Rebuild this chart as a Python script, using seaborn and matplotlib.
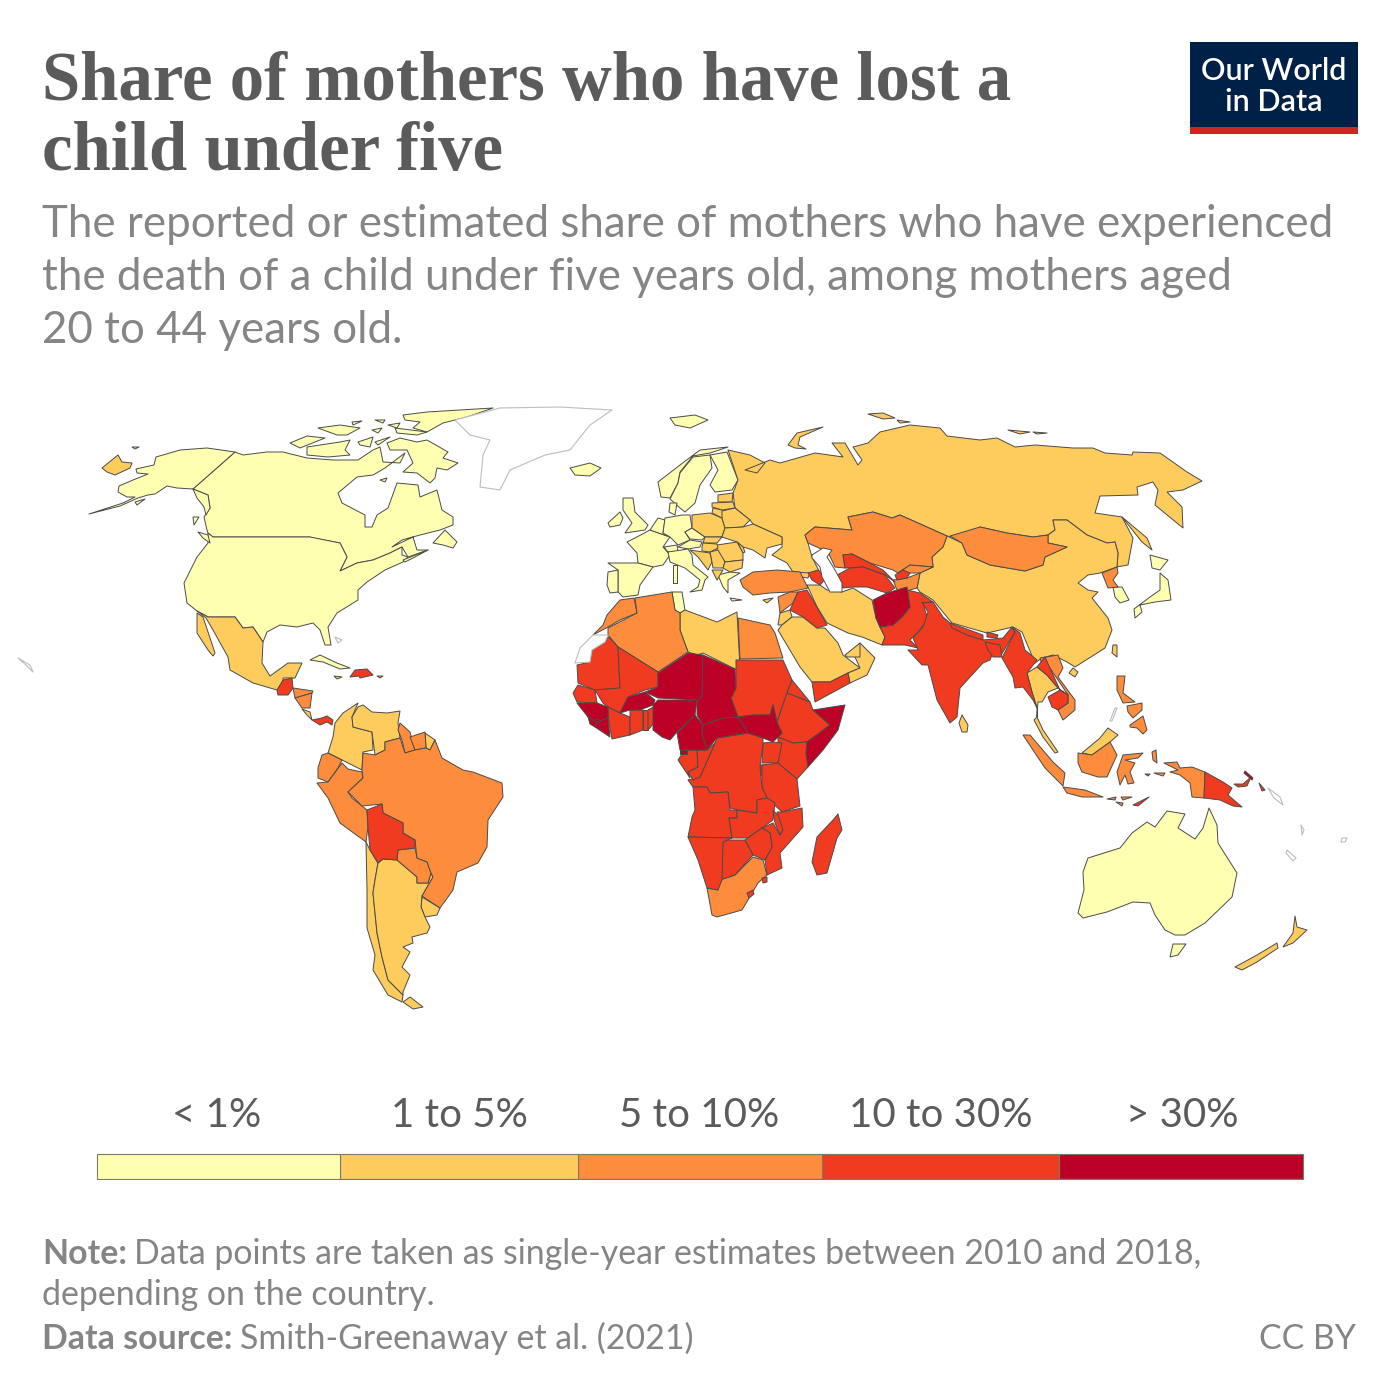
#!/usr/bin/env python3
# -*- coding: utf-8 -*-
"""
Share of mothers who have lost a child under five - world map
Outlines are traced by hand, in map units read off the source picture.
"""

import pandas as pd
import matplotlib.pyplot as plt
from matplotlib.patches import Rectangle
import seaborn as sns

# ------------------------
# LEGEND DATA
# ------------------------
bin_labels = ["< 1%", "1 to 5%", "5 to 10%", "10 to 30%", "> 30%"]
bin_edges = [0, 243, 482, 726, 964, 1208]
bin_colors = ["#ffffb2", "#fecc5c", "#fd8d3c", "#f03b20", "#bd0026"]

# ------------------------
# OUTLINES: < 1%
# ------------------------
canada = [(235,452),(243,455),(267,452),(283,452),(307,458),(333,460),(358,460),(373,450),(380,447),(383,462),(400,463),(405,453),(385,468),(373,475),(357,477),(338,493),(342,503),(365,515),(365,527),(372,527),(377,515),(388,508),(397,483),(418,485),(420,497),(437,490),(442,510),(453,517),(453,525),(440,530),(420,535),(402,540),(392,547),(413,537),(417,550),(428,550),(408,557),(402,547),(390,553),(373,560),(357,563),(340,571),(347,557),(340,543),(313,538),(310,537),(213,537),(208,533),(207,530),(204,517),(210,508),(208,495),(193,489)]
alaska = [(235,452),(207,448),(180,450),(156,457),(154,465),(136,469),(137,473),(148,474),(133,480),(119,486),(118,492),(127,497),(135,497),(123,503),(89,514),(120,506),(138,498),(148,495),(155,494),(167,486),(177,488),(193,489),(208,495),(210,508),(206,515),(204,507),(197,498),(193,489)]
usa = [(213,537),(310,537),(340,543),(347,557),(340,571),(357,563),(373,560),(390,553),(402,547),(402,555),(408,557),(403,562),(385,570),(367,582),(358,590),(358,600),(337,613),(328,627),(331,645),(325,645),(320,630),(313,623),(297,627),(280,625),(267,632),(263,642),(253,627),(243,628),(235,617),(208,617),(197,611),(187,603),(184,583),(197,557),(208,543),(208,533)]
baffin = [(387,443),(400,438),(417,442),(427,440),(448,452),(443,458),(458,463),(447,470),(437,468),(435,478),(430,483),(417,473),(403,472),(413,463),(407,450),(390,450)]
victoria_isl = [(307,447),(340,442),(350,440),(345,450),(350,455),(328,457),(307,455)]
banks_isl = [(290,443),(307,436),(325,438),(300,448)]
ellesmere = [(403,415),(427,412),(493,408),(467,417),(443,423),(427,432),(413,428),(420,422),(405,420)]
devon_isl = [(395,428),(427,432),(417,435),(397,433)]
melville_isl = [(318,428),(340,425),(360,428),(347,435),(337,435)]
somerset_isl = [(358,442),(373,437),(370,447),(360,445)]
prince_isl = [(375,442),(390,437),(378,445)]
arctic_a = [(375,420),(385,420),(383,423)]
arctic_b = [(372,430),(382,428),(378,433)]
arctic_c = [(388,425),(400,423),(397,428)]
arctic_d = [(352,422),(362,421),(353,425)]
hudson_isl = [(380,480),(387,478),(385,482)]
newfoundland = [(445,530),(457,542),(453,548),(443,545),(433,543)]
nova_scotia = [(403,560),(428,550),(413,558),(405,562)]
vancouver_isl = [(198,532),(208,535),(210,543),(203,538)]
haida_gwaii = [(193,517),(199,517),(194,525)]
kodiak = [(135,502),(145,499),(137,505)]
st_lawrence = [(132,447),(139,447),(135,449)]
cuba = [(310,660),(320,655),(337,663),(350,668),(340,669),(323,662)]
iceland = [(570,468),(590,463),(601,468),(590,476),(575,475)]
svalbard = [(670,418),(695,415),(708,420),(690,428),(675,425)]
norway = [(658,482),(680,465),(700,450),(728,447),(710,453),(693,456),(680,472),(678,483),(670,498),(661,497)]
sweden = [(680,473),(693,457),(710,455),(712,468),(700,485),(695,503),(685,512),(680,508),(670,499),(678,483)]
finland = [(710,455),(727,452),(738,480),(732,490),(715,492),(710,485),(718,470)]
denmark = [(670,503),(677,503),(675,515),(669,512)]
uk = [(623,498),(633,498),(635,512),(648,525),(645,530),(625,533),(632,523),(623,510)]
ireland = [(608,523),(620,512),(623,518),(620,525),(610,527)]
france = [(627,542),(635,538),(650,530),(670,537),(663,547),(670,555),(663,565),(653,567),(638,563),(637,553)]
benelux = [(650,530),(658,518),(665,520),(663,533),(670,537)]
germany = [(665,518),(682,515),(690,515),(692,528),(685,532),(690,540),(678,545),(670,537),(663,533)]
switzerland = [(664,547),(677,545),(678,552),(668,552)]
austria = [(678,547),(690,540),(702,542),(700,547),(688,549)]
czechia = [(685,532),(692,528),(705,537),(702,540),(690,539)]
italy = [(668,552),(688,549),(692,555),(693,565),(708,577),(705,580),(702,590),(690,592),(698,587),(700,580),(685,568),(670,562)]
sardinia = [(673,565),(677,565),(677,583),(673,583)]
spain = [(608,563),(638,563),(653,567),(640,585),(638,595),(623,597),(618,592),(618,570)]
portugal = [(608,572),(618,570),(618,592),(610,593),(607,585)]
greece = [(718,575),(730,572),(740,573),(728,580),(728,593),(723,587)]
tunisia = [(672,592),(682,592),(685,610),(680,613),(675,610)]
south_korea = [(1113,587),(1122,587),(1129,600),(1120,603),(1115,597)]
hokkaido = [(1150,555),(1168,560),(1160,570),(1152,568)]
honshu = [(1160,573),(1168,580),(1171,600),(1155,602),(1140,605),(1142,612),(1135,618),(1134,609),(1150,597),(1160,590)]
australia = [(1167,811),(1185,814),(1178,828),(1195,839),(1203,828),(1209,808),(1217,825),(1218,843),(1237,873),(1232,897),(1205,923),(1185,935),(1175,935),(1165,930),(1155,915),(1150,903),(1133,902),(1107,912),(1083,918),(1078,913),(1084,890),(1083,872),(1088,858),(1120,848),(1132,833),(1147,822),(1155,827)]
tasmania = [(1173,944),(1186,944),(1178,955),(1170,957)]

# ------------------------
# OUTLINES: 1 to 5%
# ------------------------
russia = [(728,450),(750,455),(765,463),(757,473),(745,470),(770,460),(780,463),(815,453),(843,457),(832,443),(845,443),(858,465),(862,460),(853,447),(868,443),(880,432),(910,425),(940,428),(947,436),(980,440),(997,438),(1015,447),(1035,445),(1073,448),(1093,448),(1105,453),(1132,455),(1133,452),(1160,453),(1187,472),(1202,481),(1183,490),(1167,492),(1182,507),(1183,528),(1155,505),(1158,490),(1153,482),(1137,487),(1138,495),(1100,496),(1095,513),(1122,517),(1133,538),(1128,565),(1117,567),(1118,553),(1115,542),(1107,543),(1087,535),(1067,520),(1053,520),(1055,530),(1048,535),(1033,537),(1007,533),(980,527),(978,535),(950,537),(947,536),(900,515),(892,518),(873,512),(848,517),(852,530),(815,527),(805,535),(808,543),(812,557),(822,577),(810,575),(793,572),(787,563),(772,555),(782,547),(782,537),(753,524),(750,520),(735,508),(733,493),(738,480)]
chukotka = [(102,468),(118,455),(122,462),(132,463),(130,468),(115,475),(107,472)]
novaya_zemlya = [(788,445),(797,433),(823,427),(800,437),(798,445),(806,449),(795,448)]
severnaya_a = [(868,414),(883,413),(895,418),(883,419)]
severnaya_b = [(897,420),(910,422),(900,423)]
new_siberian_a = [(1008,430),(1030,432),(1020,434)]
new_siberian_b = [(1033,432),(1047,433),(1037,434)]
sakhalin = [(1122,517),(1147,538),(1152,550),(1142,542)]
mexico = [(197,611),(208,617),(235,617),(243,628),(253,627),(263,642),(262,663),(270,676),(288,663),(302,663),(295,678),(283,678),(283,687),(277,690),(253,683),(230,670),(228,657),(213,630),(206,618)]
baja = [(197,613),(197,633),(208,650),(213,656),(215,653),(203,617)]
jamaica = [(334,676),(342,677),(337,679)]
puerto_rico = [(377,676),(383,676),(380,678)]
costa_rica = [(302,709),(310,712),(312,720),(307,715)]
colombia = [(335,723),(343,713),(358,703),(352,717),(353,727),(372,732),(373,750),(363,752),(362,770),(342,760),(328,753),(333,737)]
venezuela = [(358,707),(363,705),(372,712),(387,713),(400,711),(398,723),(400,738),(385,742),(385,750),(375,755),(372,732),(353,727),(352,717)]
french_guiana = [(425,733),(435,740),(430,750),(426,748)]
uruguay = [(422,897),(440,908),(437,915),(425,917),(421,907)]
chile = [(366,842),(370,850),(378,863),(375,880),(373,893),(377,933),(382,957),(388,980),(403,995),(402,1002),(388,995),(373,970),(375,955),(367,928),(367,890)]
fuego = [(403,1002),(410,997),(423,1007),(413,1009)]
argentina = [(378,863),(383,859),(397,860),(417,877),(417,883),(428,883),(431,873),(433,877),(422,896),(421,907),(425,917),(430,927),(427,933),(412,937),(413,943),(403,947),(410,952),(402,967),(410,975),(403,992),(403,995),(388,980),(382,957),(377,933),(373,893),(375,880)]
poland = [(692,515),(710,513),(722,518),(725,528),(722,537),(705,537),(692,528)]
estonia = [(718,495),(733,493),(732,502),(718,502)]
latvia = [(712,503),(733,502),(735,508),(722,510),(712,507)]
lithuania = [(713,508),(722,510),(727,517),(722,518),(712,513)]
belarus = [(722,511),(735,508),(750,520),(743,527),(725,528),(722,518)]
ukraine = [(725,528),(743,527),(753,524),(782,537),(782,544),(767,548),(765,558),(753,550),(743,547),(737,542),(722,537)]
moldova = [(737,542),(743,547),(745,552),(743,553)]
romania = [(717,545),(737,542),(743,553),(743,560),(725,562),(717,552)]
slovakia = [(705,537),(722,537),(717,543),(703,543)]
hungary = [(702,547),(703,543),(717,544),(718,548),(710,552),(702,551)]
croatia = [(690,550),(703,552),(710,553),(712,562),(708,570),(698,557)]
serbia = [(710,552),(718,550),(725,562),(723,568),(713,568),(712,562)]
bulgaria = [(725,562),(743,560),(742,568),(730,572),(723,568)]
albania = [(712,570),(723,570),(717,580)]
georgia = [(793,572),(810,573),(808,578),(800,577)]
libya = [(680,613),(685,610),(717,622),(737,612),(740,668),(735,669),(703,653),(697,655),(688,652),(680,630)]
jordan = [(780,613),(790,610),(792,617),(782,625),(778,625)]
iran = [(820,585),(827,590),(842,592),(853,588),(872,600),(876,618),(880,627),(885,637),(882,645),(862,637),(848,633),(827,623),(817,607),(807,585)]
saudi_arabia = [(782,625),(792,617),(803,617),(817,628),(825,628),(838,643),(843,655),(860,668),(848,673),(830,682),(812,682),(800,667),(778,630)]
oman = [(860,643),(875,658),(867,675),(850,683),(848,673),(860,668),(855,657)]
uae = [(845,655),(860,643),(860,657),(847,657)]
china = [(947,536),(962,543),(967,555),(990,565),(1025,571),(1043,565),(1045,557),(1067,547),(1048,543),(1048,535),(1055,530),(1053,520),(1067,520),(1087,535),(1107,543),(1115,542),(1118,553),(1117,567),(1100,573),(1088,575),(1078,583),(1088,590),(1098,592),(1092,598),(1108,618),(1112,630),(1105,648),(1075,667),(1067,662),(1053,655),(1042,658),(1035,663),(1022,632),(1013,627),(987,633),(952,623),(933,600),(920,592),(917,588),(920,573),(933,567),(932,557),(943,547)]
taiwan = [(1113,645),(1117,645),(1117,657),(1112,653)]
hainan = [(1073,668),(1078,672),(1075,677),(1069,673)]
thailand = [(1027,673),(1037,667),(1047,675),(1058,688),(1048,692),(1042,702),(1038,702),(1037,717),(1037,708),(1032,692)]
malay_peninsula = [(1037,717),(1043,730),(1058,752),(1055,753),(1043,737),(1034,720)]
sri_lanka = [(962,715),(968,725),(967,732),(962,732),(959,723)]
sabah_sarawak = [(1082,753),(1100,738),(1108,728),(1118,735),(1110,742),(1092,755)]
nz_north = [(1295,916),(1297,927),(1307,930),(1293,943),(1283,947),(1293,933)]
nz_south = [(1277,943),(1278,948),(1257,962),(1242,970),(1235,967),(1257,955)]
cyprus = [(763,600),(773,598),(767,603)]

# ------------------------
# OUTLINES: 5 to 10%
# ------------------------
honduras = [(293,688),(313,691),(312,693),(295,698)]
nicaragua = [(295,698),(312,693),(310,708),(302,708)]
guyana = [(400,723),(410,732),(415,750),(405,753),(402,740),(398,730)]
suriname = [(410,737),(425,732),(426,748),(415,750)]
ecuador = [(322,755),(328,753),(342,760),(338,768),(328,782),(318,778),(318,768)]
peru = [(317,783),(328,782),(342,763),(348,769),(362,772),(363,778),(348,792),(352,798),(362,806),(367,810),(368,827),(366,842),(340,823),(328,798)]
paraguay = [(398,850),(415,848),(417,858),(427,862),(431,873),(428,883),(417,883),(417,877),(397,860)]
brazil = [(363,753),(375,755),(385,750),(385,742),(400,738),(405,753),(415,750),(426,748),(430,750),(435,740),(442,758),(463,770),(473,772),(502,783),(503,797),(488,820),(487,847),(478,863),(457,872),(453,890),(440,908),(422,896),(433,877),(431,873),(427,862),(417,858),(415,840),(403,833),(403,823),(383,813),(382,804),(362,806),(348,792),(363,778),(362,770)]
morocco = [(593,635),(608,627),(620,620),(637,613),(634,598),(620,600),(607,615),(603,625)]
algeria = [(608,628),(637,613),(635,598),(672,592),(675,610),(680,613),(680,630),(688,652),(658,672),(618,647),(608,635)]
egypt = [(738,618),(770,625),(775,633),(783,658),(740,659)]
south_africa = [(720,880),(735,875),(753,857),(763,860),(767,875),(758,883),(742,910),(717,917),(712,915),(707,888),(718,890)]
turkey = [(740,580),(753,572),(777,570),(800,572),(808,588),(790,592),(770,593),(753,595),(743,587)]
syria = [(778,597),(790,592),(798,592),(793,603),(780,613)]
kazakhstan = [(805,535),(815,527),(852,530),(848,517),(873,512),(892,518),(900,515),(947,536),(943,547),(932,557),(933,567),(910,565),(898,573),(893,570),(870,563),(852,554),(843,555),(845,568),(835,567),(828,552),(808,543)]
kyrgyzstan = [(898,573),(910,565),(933,567),(920,573),(908,573)]
tajik_east = [(893,580),(907,578),(920,573),(917,588),(903,592),(897,590)]
mongolia = [(950,536),(980,527),(1007,533),(1033,537),(1048,535),(1048,543),(1067,547),(1045,557),(1043,565),(1025,571),(990,565),(967,555),(962,543)]
north_korea = [(1102,573),(1117,567),(1118,573),(1113,580),(1118,587),(1108,588)]
vietnam = [(1040,658),(1058,655),(1063,668),(1058,677),(1075,700),(1075,710),(1063,720),(1058,710),(1068,703),(1068,695),(1060,683),(1050,668),(1043,668)]
luzon = [(1117,676),(1125,676),(1123,693),(1135,702),(1123,703),(1117,690)]
visayas = [(1127,706),(1142,703),(1142,710),(1133,718),(1128,712)]
mindanao = [(1130,725),(1143,716),(1147,730),(1143,734),(1137,728),(1130,727)]
sumatra = [(1023,735),(1030,735),(1053,762),(1065,773),(1063,786),(1045,768)]
java = [(1063,787),(1085,790),(1103,797),(1082,797),(1067,793)]
kalimantan = [(1078,753),(1092,755),(1110,742),(1117,755),(1107,777),(1098,777),(1082,772),(1078,763)]
sulawesi = [(1123,755),(1143,753),(1138,758),(1125,760),(1135,763),(1130,772),(1134,783),(1128,784),(1125,775),(1120,785),(1117,772)]
sunda_a = [(1107,799),(1116,797),(1115,800)]
sunda_b = [(1121,797),(1132,797),(1123,800)]
sunda_c = [(1116,802),(1123,803),(1122,806)]
halmahera = [(1152,752),(1156,750),(1157,763),(1153,760)]
seram = [(1154,773),(1165,773),(1163,776)]
buru = [(1145,774),(1150,774),(1148,776)]
west_papua = [(1164,763),(1177,762),(1180,768),(1192,767),(1205,772),(1204,798),(1192,797),(1190,783),(1180,775),(1170,772),(1178,770)]

# ------------------------
# OUTLINES: 10 to 30%
# ------------------------
guatemala = [(283,680),(292,678),(293,688),(288,695),(278,695),(277,690)]
panama = [(312,720),(322,718),(327,716),(333,720),(332,725),(327,722),(320,725)]
hispaniola = [(350,677),(355,670),(367,669),(373,675),(360,678),(359,676)]
bolivia = [(367,810),(382,804),(383,813),(403,823),(403,833),(415,840),(415,848),(398,850),(397,860),(383,859),(378,863),(370,850),(368,827)]
mauritania = [(608,637),(610,638),(618,647),(620,688),(595,690),(578,683),(577,665),(590,662),(592,650),(605,642)]
mali = [(618,647),(658,672),(658,687),(645,690),(628,697),(620,713),(608,707),(603,703),(595,690),(620,688)]
senegal = [(578,685),(595,690),(597,703),(577,702),(573,693)]
ivory_coast = [(608,707),(620,713),(630,717),(630,735),(612,739),(609,723)]
ghana = [(630,710),(643,710),(643,730),(630,735)]
togo = [(643,710),(648,710),(648,730),(643,730)]
benin = [(648,710),(657,705),(655,722),(648,730)]
sudan = [(736,660),(783,660),(792,680),(787,693),(777,722),(773,705),(770,715),(753,715),(738,717),(731,698),(736,688)]
eritrea = [(792,680),(810,702),(787,693)]
ethiopia = [(787,693),(810,702),(813,710),(830,725),(807,742),(793,743),(778,737),(782,733),(777,722)]
kenya = [(778,737),(793,743),(807,742),(806,753),(808,767),(797,779),(778,763)]
uganda = [(763,743),(773,742),(782,743),(778,763),(762,763)]
rwanda = [(760,765),(766,765),(765,775),(760,776)]
tanzania = [(762,765),(778,763),(797,779),(800,806),(782,812),(767,798),(762,787)]
dr_congo = [(717,738),(748,733),(763,738),(763,743),(760,767),(762,787),(767,798),(757,800),(757,813),(738,810),(730,808),(728,792),(710,793),(707,787),(693,787),(688,780),(700,777),(715,743)]
gabon = [(678,760),(685,750),(697,750),(698,767),(688,772),(690,778)]
congo = [(697,750),(707,750),(715,743),(700,777),(693,780),(688,772),(698,767)]
angola = [(693,787),(707,787),(710,793),(728,792),(730,810),(737,810),(737,818),(729,818),(732,838),(688,837),(692,817),(695,810)]
zambia = [(737,810),(757,813),(757,800),(767,798),(775,803),(773,820),(762,828),(748,838),(732,838),(729,818),(737,818)]
malawi = [(773,810),(782,820),(783,830),(780,835),(775,823)]
mozambique = [(782,812),(802,808),(803,827),(780,853),(782,868),(767,875),(765,860),(772,847),(770,833),(762,828),(773,823),(780,835),(783,830),(777,812)]
zimbabwe = [(762,828),(770,833),(772,847),(765,860),(753,855),(745,840)]
botswana = [(723,840),(745,840),(753,855),(735,875),(720,880),(722,857)]
namibia = [(688,837),(732,838),(723,842),(722,880),(718,890),(707,888),(698,860)]
lesotho = [(747,893),(753,890),(754,894),(749,898)]
eswatini = [(762,878),(767,877),(767,882),(763,883)]
madagascar = [(838,814),(842,830),(837,838),(827,873),(817,875),(812,862),(817,837),(833,820)]
iraq = [(798,592),(807,590),(817,607),(827,625),(817,628),(803,617),(790,610),(793,603)]
azerbaijan = [(808,573),(818,570),(827,577),(820,585),(812,580)]
yemen = [(812,682),(830,682),(848,673),(850,683),(815,702)]
uzbekistan = [(843,555),(852,554),(870,563),(883,570),(895,582),(885,575),(863,567),(850,568),(845,568)]
turkmenistan = [(837,575),(850,568),(863,567),(885,575),(895,588),(887,593),(867,587),(853,587),(843,588)]
tajikistan = [(895,575),(903,570),(910,573),(907,578),(897,580)]
pakistan = [(910,607),(907,590),(920,593),(933,602),(923,603),(928,620),(917,633),(910,640),(918,648),(905,645),(882,645),(885,637),(880,627),(893,625),(902,617)]
india = [(923,603),(933,602),(943,617),(950,623),(983,640),(1003,638),(1012,627),(1015,632),(1000,657),(995,648),(990,660),(983,663),(960,688),(957,717),(950,723),(937,700),(928,665),(922,665),(908,650),(918,650),(913,638),(923,627),(928,612),(922,602)]
nepal = [(950,623),(983,635),(983,640),(967,635),(952,628)]
bangladesh = [(985,642),(1000,645),(1002,657),(993,657),(988,650)]
bhutan = [(987,632),(998,635),(997,638),(987,637)]
myanmar = [(1012,627),(1020,633),(1025,650),(1037,660),(1027,673),(1032,692),(1037,708),(1033,700),(1023,687),(1015,688),(1013,677),(1002,658),(1015,632)]
laos = [(1037,667),(1045,657),(1050,668),(1060,690),(1068,695),(1058,688),(1047,675)]
cambodia = [(1048,697),(1060,690),(1068,695),(1068,703),(1058,710),(1052,707)]
timor = [(1133,805),(1149,797),(1138,806)]
png = [(1205,772),(1223,782),(1232,788),(1228,795),(1242,807),(1233,806),(1220,800),(1204,798)]
new_britain = [(1234,784),(1243,784),(1251,777),(1247,786),(1238,787)]
bougainville = [(1259,783),(1265,790),(1262,791)]

# ------------------------
# OUTLINES: > 30%
# ------------------------
guinea = [(577,703),(597,703),(608,707),(608,718),(597,722),(588,717)]
sierra_leone = [(588,717),(597,722),(595,727),(590,724)]
liberia = [(597,722),(608,718),(610,737),(595,727)]
burkina_faso = [(620,713),(628,697),(645,692),(655,700),(653,705),(640,710),(630,710)]
nigeria = [(653,705),(658,700),(697,700),(695,715),(677,732),(670,740),(662,737),(653,730)]
niger = [(658,673),(688,653),(703,655),(702,697),(697,700),(658,698),(645,692),(658,687)]
chad = [(703,655),(735,669),(736,688),(731,698),(738,717),(723,718),(703,725),(697,715),(697,700),(702,697)]
cameroon = [(695,715),(703,725),(702,733),(707,750),(680,750),(677,733)]
car = [(703,725),(723,718),(738,717),(748,733),(717,738),(707,750),(702,733)]
south_sudan = [(738,717),(753,715),(770,715),(773,705),(777,722),(782,733),(773,742),(763,738),(748,733)]
somalia = [(813,710),(845,705),(838,730),(823,750),(808,767),(806,753),(807,742),(830,725)]
eq_guinea = [(680,750),(687,750),(687,754),(680,754)]
afghanistan = [(873,600),(887,593),(897,590),(907,587),(910,607),(902,617),(893,625),(880,627),(876,618)]
new_ireland = [(1245,771),(1253,778),(1252,780),(1244,773)]

# ------------------------
# OUTLINES: no data, and the seas laid over the land
# ------------------------
greenland = [(455,420),(500,408),(560,407),(612,410),(590,425),(570,450),(545,455),(510,470),(500,490),(480,487),(483,455),(490,440),(470,435)]
western_sahara = [(593,635),(608,635),(605,642),(592,650),(590,662),(575,663),(580,648)]
new_caledonia = [(1287,850),(1296,858),(1293,861),(1286,853)]
fiji = [(1342,838),(1347,838),(1345,842),(1341,842)]
vanuatu = [(1301,825),(1304,830),(1302,835)]
solomon_isl = [(1268,788),(1280,797),(1283,805),(1274,798)]
hawaii = [(18,658),(30,665),(33,672),(26,665)]
bahamas = [(335,637),(342,640),(338,643)]
palawan = [(1117,708),(1112,721),(1110,721),(1115,708)]
caspian_sea = [(812,555),(823,548),(832,550),(827,557),(835,570),(842,583),(842,592),(830,592),(822,577),(820,567),(812,558)]
crete = [(730,598),(742,600),(732,601)]

land_by_bin = [
    [canada, alaska, usa, baffin, victoria_isl, banks_isl, ellesmere, devon_isl, melville_isl,
     somerset_isl, prince_isl, arctic_a, arctic_b, arctic_c, arctic_d, hudson_isl, newfoundland,
     nova_scotia, vancouver_isl, haida_gwaii, kodiak, st_lawrence, cuba, iceland, svalbard, norway,
     sweden, finland, denmark, uk, ireland, france, benelux, germany, switzerland, austria, czechia,
     italy, sardinia, spain, portugal, greece, crete, tunisia, south_korea, hokkaido, honshu, australia,
     tasmania],
    [russia, chukotka, novaya_zemlya, severnaya_a, severnaya_b, new_siberian_a, new_siberian_b,
     sakhalin, mexico, baja, jamaica, puerto_rico, costa_rica, colombia, venezuela, french_guiana,
     uruguay, chile, fuego, argentina, poland, estonia, latvia, lithuania, belarus, ukraine, moldova,
     romania, slovakia, hungary, croatia, serbia, bulgaria, albania, georgia, libya, jordan, iran,
     saudi_arabia, oman, uae, china, taiwan, hainan, thailand, malay_peninsula, sri_lanka,
     sabah_sarawak, nz_north, nz_south, cyprus],
    [honduras, nicaragua, guyana, suriname, ecuador, peru, paraguay, brazil, morocco, algeria, egypt,
     south_africa, turkey, syria, kazakhstan, kyrgyzstan, tajik_east, mongolia, north_korea, vietnam,
     luzon, visayas, mindanao, sumatra, java, kalimantan, sulawesi, sunda_a, sunda_b, sunda_c,
     halmahera, seram, buru, west_papua],
    [guatemala, panama, hispaniola, bolivia, mauritania, mali, senegal, ivory_coast, ghana, togo,
     benin, sudan, eritrea, ethiopia, kenya, uganda, rwanda, tanzania, dr_congo, gabon, congo, angola,
     zambia, malawi, mozambique, zimbabwe, botswana, namibia, lesotho, eswatini, madagascar, iraq,
     azerbaijan, yemen, uzbekistan, turkmenistan, tajikistan, pakistan, india, nepal, bangladesh,
     bhutan, myanmar, laos, cambodia, timor, png, new_britain, bougainville],
    [guinea, sierra_leone, liberia, burkina_faso, nigeria, niger, chad, cameroon, car, south_sudan,
     somalia, eq_guinea, afghanistan, new_ireland],
]
no_data = [greenland, western_sahara, new_caledonia, fiji, vanuatu, solomon_isl, hawaii, bahamas, palawan]

SUBTITLE = ["The reported or estimated share of mothers who have experienced",
            "the death of a child under five years old, among mothers aged",
            "20 to 44 years old."]

# ------------------------
# FIGURE
# ------------------------
sns.set_theme(style="white")
plt.rcParams["font.family"] = ["Lato", "DejaVu Sans"]
palette = sns.color_palette(bin_colors)

fig = plt.figure(figsize=(14, 14), dpi=100, facecolor="white")
ax = fig.add_axes([0, 0, 1, 1])
ax.set_xlim(0, 1400)
ax.set_ylim(1400, 0)
ax.axis("off")

# Map
for shapes, color in zip(land_by_bin, palette):
    for shape in shapes:
        xs, ys = zip(*shape)
        ax.fill(xs, ys, facecolor=color, edgecolor="#4a4a4a", linewidth=0.7, joinstyle="round")
for shape in no_data:
    xs, ys = zip(*shape)
    ax.fill(xs, ys, facecolor="white", edgecolor="#bdbdbd", linewidth=0.8, joinstyle="round")
xs, ys = zip(*caspian_sea)
ax.fill(xs, ys, facecolor="white", edgecolor="#4a4a4a", linewidth=0.7, joinstyle="round")

# Header
ax.text(42, 100, "Share of mothers who have lost a", family="Liberation Serif", weight="bold",
        fontsize=49.5, color="#5b5b5b", ha="left", va="baseline")
ax.text(42, 170, "child under five", family="Liberation Serif", weight="bold",
        fontsize=49.5, color="#5b5b5b", ha="left", va="baseline")
for line, y in zip(SUBTITLE, [237, 290, 343]):
    ax.text(42, y, line, fontsize=31.6, color="#858585", ha="left", va="baseline")

# Logo
ax.add_patch(Rectangle((1190, 42), 168, 92, facecolor="#002147", edgecolor="none"))
ax.add_patch(Rectangle((1190, 127), 168, 7, facecolor="#ce261e", edgecolor="none"))
ax.text(1274, 80, "Our World", fontsize=22, weight="semibold", color="white", ha="center", va="baseline")
ax.text(1274, 111, "in Data", fontsize=22, weight="semibold", color="white", ha="center", va="baseline")

# Legend bar
legend_df = pd.DataFrame({
    "mid": [(a + b) / 2 for a, b in zip(bin_edges[:-1], bin_edges[1:])],
    "label": bin_labels,
    "count": [1] * len(bin_labels),
})
lax = fig.add_axes([96 / 1400, 1 - 1180 / 1400, 1208 / 1400, 27 / 1400])
sns.histplot(data=legend_df, x="mid", weights="count", hue="label", hue_order=bin_labels,
             bins=bin_edges, palette=palette, alpha=1, edgecolor="#7a7a6a", linewidth=0.8,
             legend=False, ax=lax)
lax.set_xlim(bin_edges[0] - 1, bin_edges[-1] + 1)
lax.set_ylim(-0.04, 1.04)
lax.axis("off")

for label, x in zip(bin_labels, [217, 459, 699, 941, 1182]):
    ax.text(x, 1127, label, fontsize=29, color="#5b5b5b", ha="center", va="baseline")

# Footer
ax.text(42, 1264, "Note:", fontsize=24.4, weight="bold", color="#858585", ha="left", va="baseline")
ax.text(134, 1264, "Data points are taken as single-year estimates between 2010 and 2018,",
        fontsize=24.4, color="#858585", ha="left", va="baseline")
ax.text(42, 1305, "depending on the country.", fontsize=24.4, color="#858585", ha="left", va="baseline")
ax.text(42, 1349, "Data source:", fontsize=24.4, weight="bold", color="#858585", ha="left", va="baseline")
ax.text(240, 1349, "Smith-Greenaway et al. (2021)", fontsize=24.4, color="#858585", ha="left", va="baseline")
ax.text(1356, 1349, "CC BY", fontsize=24.4, color="#858585", ha="right", va="baseline")

plt.savefig("out.png", dpi=100, facecolor="white")
plt.close()
